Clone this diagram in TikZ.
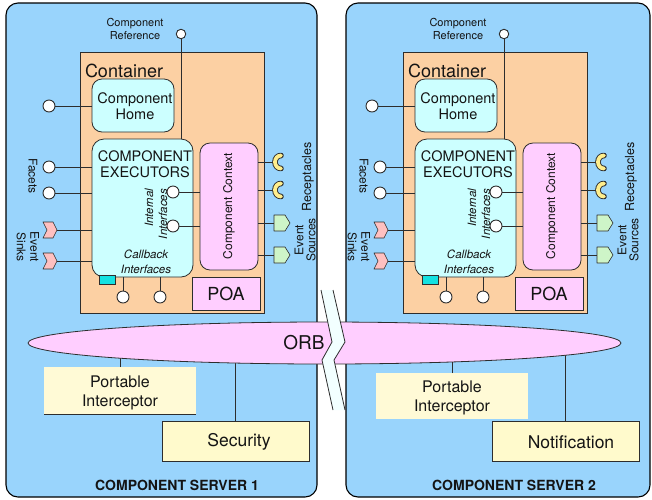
\documentclass[tikz,border=0pt]{standalone}
\usepackage{fontspec}
\setmainfont{TeX Gyre Heros}
\usetikzlibrary{shapes.geometric}

\definecolor{srvblue}{RGB}{153,212,252}
\definecolor{peach}{RGB}{252,208,163}
\definecolor{homecyan}{RGB}{204,255,255}
\definecolor{ctxpink}{RGB}{255,206,255}
\definecolor{orbpink}{RGB}{255,206,255}
\definecolor{tabcyan}{RGB}{20,225,225}
\definecolor{sinkpink}{RGB}{255,192,192}
\definecolor{srcgreen}{RGB}{206,245,200}
\definecolor{recyellow}{RGB}{255,238,140}
\definecolor{piyellow}{RGB}{255,250,214}
\definecolor{secyellow}{RGB}{255,250,204}
\definecolor{breakfill}{RGB}{242,255,255}
\definecolor{lineclr}{RGB}{45,45,45}
\definecolor{txtclr}{RGB}{20,20,20}

\newcommand\fsz[2]{\fontsize{#1}{#2}\selectfont}

\tikzset{
  edge/.style={draw=lineclr, line width=0.8pt},
  frame/.style={draw=lineclr, line width=0.8pt, anchor=north west},
  port/.style={circle, draw=lineclr, fill=white, line width=0.9pt, minimum size=12pt},
  smallport/.style={port, minimum size=9.5pt},
  lbl/.style={text=txtclr, align=center},
  sinkglyph/.pic={
    \draw[fill=sinkpink, draw=lineclr, line width=0.6pt, line join=round]
      (-14,-8) -- (-4,-8) -- (0,0) -- (-4,8) -- (-14,8) -- (-10,0) -- cycle;},
  srcglyph/.pic={
    \draw[fill=srcgreen, draw=lineclr, line width=0.6pt, line join=round]
      (0,-8) -- (11,-8) -- (16,0) -- (11,8) -- (0,8) -- cycle;},
  recglyph/.pic={
    \draw[line width=5.6pt, lineclr, line cap=round]
      (6,6.5) .. controls (2.5,6.5) and (0,3.6) .. (0,0) .. controls (0,-3.6) and (2.5,-6.5) .. (6,-6.5);
    \draw[line width=3.8pt, recyellow, line cap=round]
      (6,6.5) .. controls (2.5,6.5) and (0,3.6) .. (0,0) .. controls (0,-3.6) and (2.5,-6.5) .. (6,-6.5);}
}

% Container with its component parts; #1 = name prefix, #2 = shift, #3 = extra shift of the left ports
\newcommand\serverinner[3]{%
\begin{scope}[xshift=#2pt]
  \node[frame, fill=peach, minimum width=184pt, minimum height=261pt] (#1cont) at (80,52) {};
  \node[lbl, anchor=base west, font=\fsz{18}{20}] (#1contlbl) at (85,77) {Container};
  \node[lbl, font=\fsz{11}{13.5}] (#1reftxt) at (135,29) {Component\\Reference};
  \node[smallport] (#1cr) at (181,34) {};
  \draw[edge] (#1cr.south) -- (#1cr.south |- 0,139);
  \node[frame, rounded corners=10pt, fill=homecyan, minimum width=82pt, minimum height=53pt] (#1home) at (92,79) {};
  \node[frame, rounded corners=12pt, fill=homecyan, minimum width=101pt, minimum height=138pt] (#1exec) at (92,139) {};
  \node[frame, rounded corners=10pt, fill=ctxpink, minimum width=58pt, minimum height=127pt] (#1ctx) at (200,143) {};
  \node[frame, fill=ctxpink, minimum width=68pt, minimum height=33pt] (#1poa) at (192,277) {};
  \node[frame, fill=tabcyan, minimum width=16pt, minimum height=9pt] (#1tab) at (99,275) {};
  \node[lbl, font=\fsz{14.5}{16}] (#1hometxt) at (135,106) {Component\\Home};
  \node[lbl, font=\fsz{14.5}{16}] (#1exectxt) at (145,164) {COMPONENT\\EXECUTORS};
  \node[lbl, rotate=90, font=\fsz{12}{14}] (#1ctxtxt) at (229,206) {Component Context};
  \node[lbl, font=\fsz{18}{20}] (#1poatxt) at (226,294) {POA};
  \node[lbl, font=\itshape\fsz{11.5}{15}] (#1cbtxt) at (146,262) {Callback\\Interfaces};
  \node[lbl, rotate=90, align=right, font=\itshape\fsz{11.5}{14}] (#1iitxt) at (156,214) {Internal\\Interfaces};
  % home port
  \node[port] (#1hc) at (49,106) {};
  \draw[edge] (#1hc.east) -- (#1hc -| #1home.west);
  % internal interfaces
  \node[port] (#1ii1) at (173,192) {};
  \node[port] (#1ii2) at (173,226) {};
  \draw[edge] (#1ii1.east) -- (#1ii1 -| #1ctx.west);
  \draw[edge] (#1ii2.east) -- (#1ii2 -| #1ctx.west);
  % callback interfaces
  \node[port] (#1cb1) at (123,297) {};
  \node[port] (#1cb2) at (160,297) {};
  \draw[edge] (#1cb1.north) -- (#1cb1 |- #1exec.south);
  \draw[edge] (#1cb2.north) -- (#1cb2 |- #1exec.south);
  % facets and event sinks
  \begin{scope}[xshift=#3pt]
    \node[port] (#1f1) at (49,167) {};
    \node[port] (#1f2) at (49,193) {};
    \draw[edge] (#1f1.east) -- (#1f1 -| #1exec.west);
    \draw[edge] (#1f2.east) -- (#1f2 -| #1exec.west);
    \coordinate (#1s1) at (57,230);
    \coordinate (#1s2) at (57,261);
    \draw[edge] (#1s1) -- (#1s1 -| #1exec.west);
    \draw[edge] (#1s2) -- (#1s2 -| #1exec.west);
    \pic at (#1s1) {sinkglyph};
    \pic at (#1s2) {sinkglyph};
    \node[lbl, rotate=-90, font=\fsz{12}{13}] (#1factxt) at (33,176) {Facets};
    \node[lbl, rotate=-90, font=\fsz{12}{13.5}] (#1sinktxt) at (28,247) {Event\\Sinks};
  \end{scope}
  % receptacles and event sources
  \coordinate (#1r1) at (275,162);
  \coordinate (#1r2) at (275,190);
  \draw[edge] (#1r1 -| #1ctx.east) -- (#1r1);
  \draw[edge] (#1r2 -| #1ctx.east) -- (#1r2);
  \pic at (#1r1) {recglyph};
  \pic at (#1r2) {recglyph};
  \coordinate (#1e1) at (274,223);
  \coordinate (#1e2) at (274,255);
  \draw[edge] (#1e1 -| #1ctx.east) -- (#1e1);
  \draw[edge] (#1e2 -| #1ctx.east) -- (#1e2);
  \pic at (#1e1) {srcglyph};
  \pic at (#1e2) {srcglyph};
  \node[lbl, rotate=90, font=\fsz{12.5}{13}] (#1rectxt) at (308,177) {Receptacles};
  \node[lbl, rotate=90, font=\fsz{12}{12}] (#1srctxt) at (305,240) {Event\\Sources};
\end{scope}}

\begin{document}
\begin{tikzpicture}[x=1pt, y=-1pt, every node/.style={inner sep=0pt, outer sep=0pt}]
  \useasboundingbox (0,0) rectangle (652,499);

  % the two server frames
  \node[draw=black, line width=1.1pt, fill=srvblue, rounded corners=12pt, anchor=north west,
        minimum width=311pt, minimum height=494pt] (srv1) at (6,3) {};
  \node[draw=black, line width=1.1pt, fill=srvblue, rounded corners=12pt, anchor=north west,
        minimum width=304pt, minimum height=494pt] (srv2) at (346,3) {};

  \serverinner{a}{0}{0}
  \serverinner{b}{323}{8}

  % services below the ORB
  \coordinate (orbc) at (324.5,343);
  \node[fill=piyellow, anchor=north west, minimum width=152pt, minimum height=47pt] (pi1) at (44,367) {};
  \draw[edge] (pi1.south west) -- (pi1.south east);
  \node[lbl, font=\fsz{16}{19}] (pi1txt) at ([yshift=-2pt]pi1.center) {Portable\\Interceptor};
  \node[frame, fill=secyellow, minimum width=147pt, minimum height=40pt] (sec) at (162,421) {};
  \node[lbl, font=\fsz{17.5}{19}] (sectxt) at (239,442) {Security};
  \node[fill=piyellow, anchor=north west, minimum width=152pt, minimum height=46pt] (pi2) at (376,373) {};
  \node[lbl, font=\fsz{16}{19}] (pi2txt) at ([yshift=-2pt]pi2.center) {Portable\\Interceptor};
  \node[frame, fill=secyellow, minimum width=147pt, minimum height=40pt] (notif) at (492,421) {};
  \node[lbl, font=\fsz{17.5}{19}] (notiftxt) at (571,442) {Notification};

  \draw[edge] (pi1.north) -- (pi1.north |- orbc);
  \draw[edge] (sec.north) -- (sec.north |- orbc);
  \draw[edge] (pi2.north) -- (pi2.north |- orbc);
  \draw[edge] (notif.north) -- (notif.north |- orbc);

  % the ORB
  \node[ellipse, draw=lineclr, fill=orbpink, line width=0.8pt, minimum width=593pt, minimum height=42pt] (orb) at (orbc) {};
  \node[lbl, font=\fsz{19}{20}] (orbtxt) at (304,343) {ORB};

  % break between the two servers
  \fill[breakfill] (321,290) -- (332,342) -- (322,360) -- (333,410) -- (345,410) -- (334,360) -- (345,342) -- (333,290) -- cycle;
  \draw[edge, line join=miter] (321,290) -- (332,342) -- (322,360) -- (333,410);
  \draw[edge, line join=miter] (333,290) -- (345,342) -- (334,360) -- (345,410);

  % server titles
  \node[lbl, font=\bfseries\fsz{14}{16}] (srv1lbl) at (177,485) {COMPONENT SERVER 1};
  \node[lbl, font=\bfseries\fsz{14}{16}] (srv2lbl) at (514,485) {COMPONENT SERVER 2};
\end{tikzpicture}
\end{document}
